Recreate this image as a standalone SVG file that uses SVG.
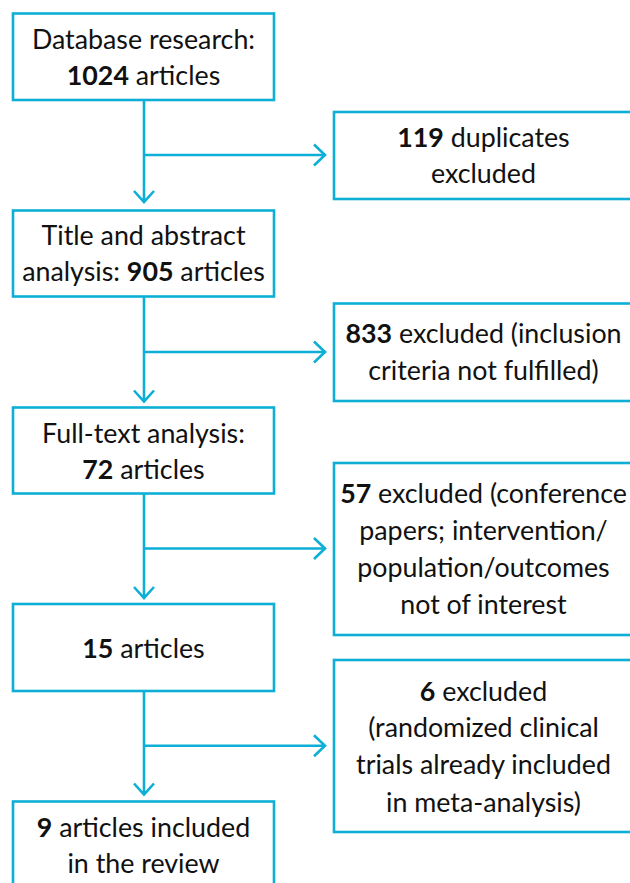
<svg xmlns="http://www.w3.org/2000/svg" width="630" height="883" viewBox="0 0 630 883">
<style>
.box{fill:#fff;stroke:#0DAFD6;stroke-width:2.6}
.ln{fill:none;stroke:#0DAFD6;stroke-width:2.6}
text{font-family:Lato,"Noto Sans",sans-serif;font-size:26.8px;fill:#111;text-anchor:middle}
.b{font-weight:bold}
</style>
<rect width="630" height="883" fill="#fff"/>
<g id="connectors">
<path class="ln" d="M144,100 V202 M134,191 L144,202 L154,191 M144,155 H325 M314,144.5 L325,155 L314,165.5"/>
<path class="ln" d="M144,297 V401.5 M134,390.5 L144,401.5 L154,390.5 M144,352 H325 M314,341.5 L325,352 L314,362.5"/>
<path class="ln" d="M144,494 V598 M134,587 L144,598 L154,587 M144,548.5 H325 M314,538 L325,548.5 L314,559"/>
<path class="ln" d="M144,691 V794.5 M134,783.5 L144,794.5 L154,783.5 M144,745.7 H325 M314,735.2 L325,745.7 L314,756.2"/>
</g>
<g id="n1"><rect class="box" x="13" y="13.5" width="261" height="86.5"/>
<text x="143.5" y="49">Database research:</text>
<text x="143.5" y="85"><tspan class="b">1024</tspan> articles</text></g>
<g id="n2"><rect class="box" x="13" y="210.5" width="261" height="86"/>
<text x="143.5" y="245">Title and abstract</text>
<text x="143.5" y="281">analysis: <tspan class="b">905</tspan> articles</text></g>
<g id="n3"><rect class="box" x="13" y="407.5" width="261" height="86"/>
<text x="143.5" y="442.7">Full-text analysis:</text>
<text x="143.5" y="479.3"><tspan class="b">72</tspan> articles</text></g>
<g id="n4"><rect class="box" x="13" y="604" width="261" height="87"/>
<text x="143.5" y="658.3"><tspan class="b">15</tspan> articles</text></g>
<g id="n5"><rect class="box" x="13" y="801.5" width="261" height="100"/>
<text x="143.5" y="836.7"><tspan class="b">9</tspan> articles included</text>
<text x="143.5" y="873">in the review</text></g>
<g id="r1"><rect class="box" x="334" y="112" width="300" height="87"/>
<text x="483.5" y="146.7"><tspan class="b">119</tspan> duplicates</text>
<text x="483.5" y="183.3">excluded</text></g>
<g id="r2"><rect class="box" x="334" y="303.5" width="300" height="97.5"/>
<text x="483.5" y="343.3"><tspan class="b">833</tspan> excluded (inclusion</text>
<text x="483.5" y="380">criteria not fulfilled)</text></g>
<g id="r3"><rect class="box" x="334" y="463" width="300" height="172"/>
<text x="483.5" y="503.3"><tspan class="b">57</tspan> excluded (conference</text>
<text x="483.5" y="540">papers; intervention/</text>
<text x="483.5" y="576.7">population/outcomes</text>
<text x="483.5" y="614">not of interest</text></g>
<g id="r4"><rect class="box" x="334" y="660" width="300" height="172"/>
<text x="483.5" y="700.7"><tspan class="b">6</tspan> excluded</text>
<text x="483.5" y="737.3">(randomized clinical</text>
<text x="483.5" y="774.3">trials already included</text>
<text x="483.5" y="812.3">in meta-analysis)</text></g>
</svg>
